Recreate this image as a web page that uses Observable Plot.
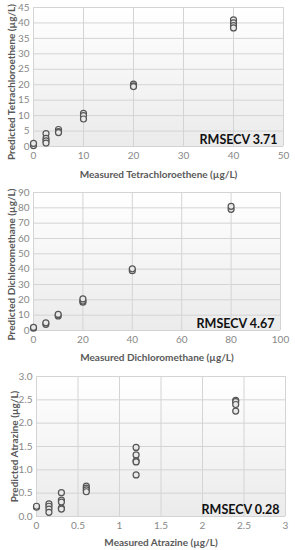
<!DOCTYPE html>
<html><head><meta charset="utf-8">
<script src="https://cdn.jsdelivr.net/npm/d3@7"></script>
<script src="https://cdn.jsdelivr.net/npm/@observablehq/plot@0.6"></script>
<style>
html,body{margin:0;padding:0;background:#fff;overflow:hidden;}
#c svg{display:block;}
</style></head><body><div id="c"></div>
<script>
// Tetrachloroethene
const tceMeasured  = [0,0, 2.5,2.5,2.5,2.5, 5,5,5, 10,10,10, 20,20,20, 40,40,40,40];
const tcePredicted = [0.3,1.0, 4.2,2.6,1.8,1.1, 5.5,4.8,4.5, 10.7,10.0,8.9, 20.2,19.6,19.4, 41.0,40.0,39.1,38.4];
const tceXTicks = [0,10,20,30,40,50];
const tceYTicks = [0,5,10,15,20,25,30,35,40,45];
// Dichloromethane
const dcmMeasured  = [0,0, 5,5, 10,10, 20,20,20, 40,40, 80,80];
const dcmPredicted = [1.5,2.0, 4.0,5.0, 9.5,10.5, 18.5,19.2,20.6, 39.0,40.2, 79.0,81.0];
const dcmXTicks = [0,20,40,60,80,100];
const dcmYTicks = [0,10,20,30,40,50,60,70,80,90];
// Atrazine
const atzMeasured  = [0,0, 0.15,0.15,0.15,0.15, 0.3,0.3,0.3,0.3,0.3, 0.6,0.6,0.6,0.6, 1.2,1.2,1.2,1.2,1.2, 2.4,2.4,2.4,2.4];
const atzPredicted = [0.20,0.22, 0.27,0.22,0.16,0.09, 0.51,0.35,0.31,0.18,0.16, 0.65,0.61,0.57,0.53, 1.48,1.32,1.19,1.17,0.89, 2.49,2.46,2.40,2.26];
const atzXTicks = [0,0.5,1,1.5,2,2.5,3];
const atzYTicks = [0,0.5,1,1.5,2,2.5,3];

const panels = [
  {id:"g1", mx:tceMeasured, py:tcePredicted, xt:tceXTicks, yt:tceYTicks, xd:[0,50], yd:[0,45],
   xl:"Measured Tetrachloroethene (µg/L)", yl:"Predicted Tetrachloroethene (µg/L)", rm:["RMSECV 3.71"],
   h:184, mt:7, mb:38, ml:33, mr:12, xo:31, ys:5, xf:d=>String(d), yf:d=>String(d)},
  {id:"g2", mx:dcmMeasured, py:dcmPredicted, xt:dcmXTicks, yt:dcmYTicks, xd:[0,100], yd:[0,90],
   xl:"Measured Dichloromethane (µg/L)", yl:"Predicted Dichloromethane (µg/L)", rm:["RMSECV 4.67"],
   h:186, mt:8, mb:40, ml:33, mr:15, xo:30, ys:3, xf:d=>String(d), yf:d=>String(d)},
  {id:"g3", mx:atzMeasured, py:atzPredicted, xt:atzXTicks, yt:atzYTicks, xd:[0,3], yd:[0,3],
   xl:"Measured Atrazine (µg/L)", yl:"Predicted Atrazine (µg/L)", rm:["RMSECV 0.28"],
   h:180, mt:6, mb:34, ml:36, mr:10, xo:29, ys:0, xf:d=>String(d), yf:d=>d.toFixed(1)}
];

const container = document.getElementById("c");
for (const p of panels) {
  const pts = p.mx.map((x,i)=>({x, y:p.py[i]}));
  const chart = Plot.plot({
    width:295, height:p.h,
    marginTop:p.mt, marginBottom:p.mb, marginLeft:p.ml, marginRight:p.mr,
    style:{fontFamily:"Lato, 'Open Sans', sans-serif", fontSize:"10px", color:"#888888", background:"transparent"},
    x:{domain:p.xd, ticks:p.xt},
    y:{domain:p.yd, ticks:p.yt},
    marks:[
      Plot.frame({fill:`url(#${p.id})`, stroke:"none"}),
      Plot.gridX(p.xt, {stroke:"#d4d4d4", strokeOpacity:1, strokeWidth:1}),
      Plot.gridY(p.yt, {stroke:"#d4d4d4", strokeOpacity:1, strokeWidth:1}),
      Plot.axisX({ticks:p.xt, tickSize:0, tickPadding:5, tickFormat:p.xf, label:p.xl, labelAnchor:"center", labelArrow:"none", labelOffset:p.xo}),
      Plot.axisY({ticks:p.yt, tickSize:0, tickPadding:4, tickFormat:p.yf, label:p.yl, labelAnchor:"center", labelArrow:"none", labelOffset:26}),
      Plot.dot(pts, {x:"x", y:"y", r:3, fill:"#e9e9e9", stroke:"#555555", strokeWidth:1.2}),
      Plot.text(p.rm, {text:d=>d, frameAnchor:"bottom-right", textAnchor:"end", lineAnchor:"bottom", dx:-6, dy:-3, fontSize:12.5, fontWeight:"bold", fill:"#111"})
    ]
  });
  const svg = d3.select(chart);
  const grad = svg.insert("defs", ":first-child").append("linearGradient")
    .attr("id", p.id).attr("x1",0).attr("y1",0).attr("x2",0).attr("y2",1);
  grad.append("stop").attr("offset","0%").attr("stop-color","#ffffff");
  grad.append("stop").attr("offset","100%").attr("stop-color","#ebebeb");
  svg.selectAll("g[aria-label='x-axis label'] text, g[aria-label='y-axis label'] text")
    .attr("font-weight","bold").attr("fill","#595959");
  svg.selectAll("g[aria-label='y-axis label']").each(function(){
    const g = d3.select(this);
    g.attr("transform", `translate(0,${p.ys}) ` + (g.attr("transform") || ""));
  });
  container.appendChild(chart);
}
</script></body></html>
